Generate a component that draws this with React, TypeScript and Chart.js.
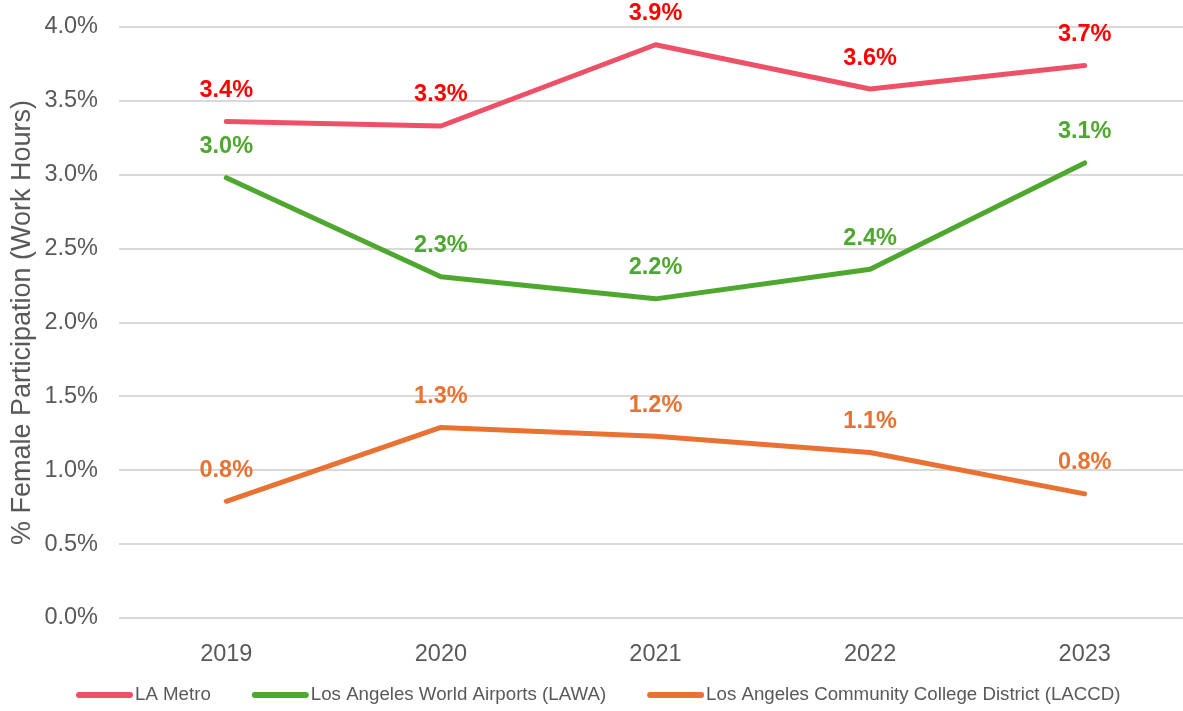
import React, { useEffect, useRef } from "react";
import { Chart, registerables } from "chart.js";

Chart.register(...registerables);

const years = ["2019", "2020", "2021", "2022", "2023"];
const laMetro = [3.36, 3.33, 3.88, 3.58, 3.74];
const lawa = [2.98, 2.31, 2.16, 2.36, 3.08];
const laccd = [0.79, 1.29, 1.23, 1.12, 0.84];
const seriesNames = [
  "LA Metro",
  "Los Angeles World Airports (LAWA)",
  "Los Angeles Community College District (LACCD)",
];
const lineColors = ["#EE5068", "#4EA72E", "#E97132"];
const labelColors = ["#FF0000", "#4EA72E", "#E97132"];

const FONT = "'Liberation Sans', Arial, sans-serif";

const dataLabelPlugin = {
  id: "dataLabels",
  afterDatasetsDraw(chart: any) {
    const ctx = chart.ctx;
    ctx.save();
    ctx.font = `bold 23.5px ${FONT}`;
    ctx.textAlign = "center";
    ctx.textBaseline = "middle";
    chart.data.datasets.forEach((ds: any, i: number) => {
      const meta = chart.getDatasetMeta(i);
      ctx.fillStyle = labelColors[i];
      meta.data.forEach((pt: any, j: number) => {
        const v = ds.data[j] as number;
        ctx.fillText(v.toFixed(1) + "%", pt.x, pt.y - 31);
      });
    });
    ctx.restore();
  },
};

const legendPlugin = {
  id: "customLegend",
  afterDraw(chart: any) {
    const ctx = chart.ctx;
    ctx.save();
    ctx.font = `18.7px ${FONT}`;
    ctx.textBaseline = "middle";
    ctx.textAlign = "left";
    const y = 695;
    let x = 76;
    chart.data.datasets.forEach((ds: any, i: number) => {
      ctx.strokeStyle = lineColors[i];
      ctx.lineWidth = 6;
      ctx.lineCap = "round";
      ctx.beginPath();
      ctx.moveTo(x + 3, y);
      ctx.lineTo(x + 54, y);
      ctx.stroke();
      x += 59;
      ctx.fillStyle = "#595959";
      ctx.fillText(ds.label, x, y);
      x += ctx.measureText(ds.label).width + 41;
    });
    ctx.restore();
  },
};

export default function App() {
  const ref = useRef<HTMLCanvasElement>(null);
  useEffect(() => {
    document.body.style.margin = "0";
    const chart = new Chart(ref.current!, {
      type: "line",
      data: {
        labels: years,
        datasets: [laMetro, lawa, laccd].map((d, i) => ({
          label: seriesNames[i],
          data: d,
          borderColor: lineColors[i],
          backgroundColor: lineColors[i],
          borderWidth: 5,
          pointRadius: 0,
          tension: 0,
          borderCapStyle: "round" as const,
          borderJoinStyle: "round" as const,
        })),
      },
      options: {
        animation: false,
        responsive: false,
        maintainAspectRatio: false,
        layout: { padding: { top: 27, left: 0, right: 8, bottom: 43 } },
        plugins: {
          tooltip: { enabled: false },
          legend: { display: false },
        },
        scales: {
          x: {
            offset: true,
            grid: { display: false },
            border: { display: false },
            afterFit: (s: any) => {
              s.height = 50;
            },
            ticks: {
              font: { family: FONT, size: 23.5 },
              color: "#595959",
              padding: 14,
            },
          },
          y: {
            min: 0,
            max: 4,
            border: { display: false },
            afterFit: (s: any) => {
              s.width = 119;
              s.paddingTop = 0;
              s.paddingBottom = 0;
            },
            grid: { color: "#D9D9D9", lineWidth: 2, drawTicks: false },
            ticks: {
              stepSize: 0.5,
              font: { family: FONT, size: 23.5 },
              color: "#595959",
              padding: 21,
              callback: (v: any) => Number(v).toFixed(1) + "%",
            },
            title: {
              display: true,
              text: "% Female Participation (Work Hours)",
              font: { family: FONT, size: 27 },
              color: "#595959",
              padding: { top: 6, bottom: 0 },
            },
          },
        },
      },
      plugins: [dataLabelPlugin, legendPlugin],
    });
    return () => chart.destroy();
  }, []);
  return (
    <div
      style={{
        position: "fixed",
        left: 0,
        top: 0,
        width: 1183,
        height: 711,
        overflow: "hidden",
        background: "#fff",
      }}
    >
      <canvas ref={ref} width={1200} height={711} style={{ width: 1200, height: 711 }} />
    </div>
  );
}
